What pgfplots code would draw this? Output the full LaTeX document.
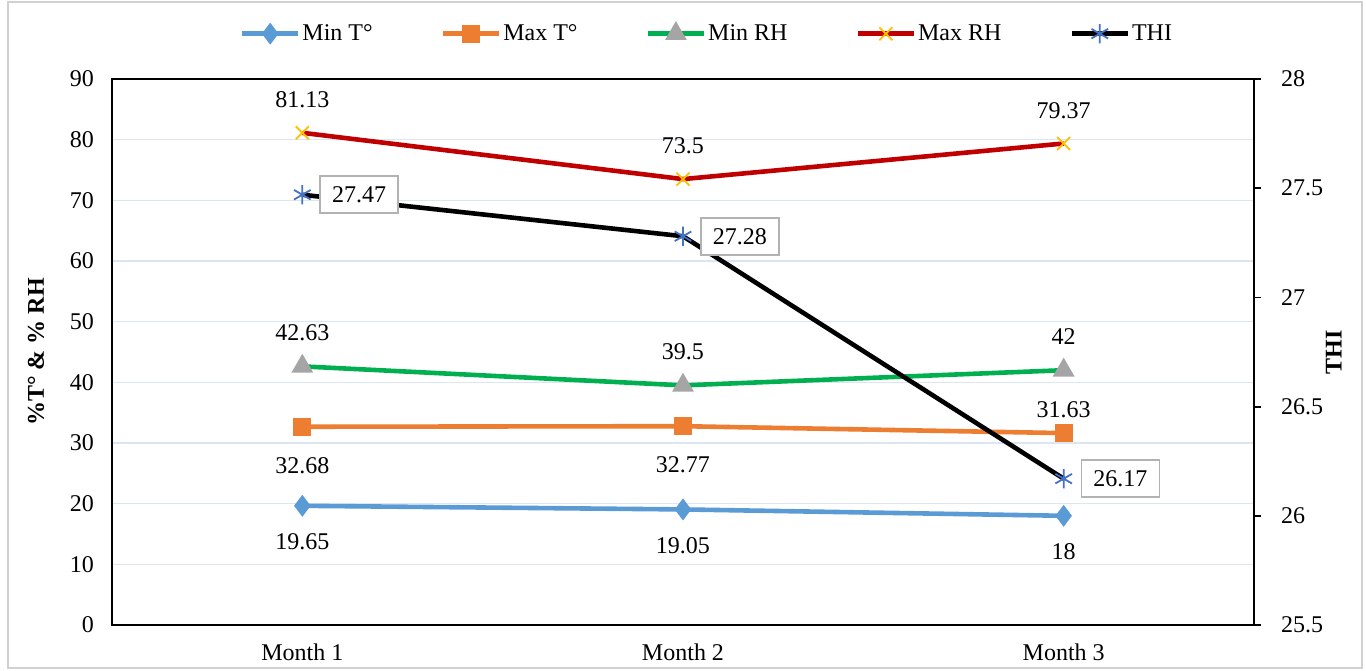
\documentclass[border=0pt]{standalone}
\usepackage{fontspec}
\setmainfont{Liberation Serif}
\usepackage{pgfplots}
\usepackage{pgfplotstable}
\pgfplotsset{compat=1.18}

\definecolor{cMinT}{HTML}{5B9BD5}
\definecolor{cMaxT}{HTML}{ED7D31}
\definecolor{cMinRH}{HTML}{00B050}
\definecolor{cMinRHm}{HTML}{A5A5A5}
\definecolor{cMaxRH}{HTML}{C00000}
\definecolor{cMaxRHm}{HTML}{FFC000}
\definecolor{cTHIm}{HTML}{4472C4}
\definecolor{cGrid}{HTML}{DCE6F2}

% dyT = vertical shift of the Max T label (pt)
\pgfplotstableread{
x minT maxT dyT minRH maxRH thi
0 19.65 32.68 -19.5 42.63 81.13 27.47
1 19.05 32.77 -19.5 39.5 73.5 27.28
2 18 31.63 11.5 42 79.37 26.17
}\datatable

\pgfplotsset{
  common/.style={
    scale only axis, width=571pt, height=273pt,
    xmin=-0.5, xmax=2.5,
    /pgf/number format/assume math mode=true,
  },
  ser/.style={line width=2.3pt, mark size=3.6pt, mark options={solid}},
  legend image code/.code={
    \draw[mark repeat=2,mark phase=2] plot coordinates {(0pt,0pt) (14pt,0pt) (28pt,0pt)};
  },
}

\begin{document}
\begin{tikzpicture}[font=\fontsize{12}{14}\selectfont]
\begin{axis}[common, name=ax,
    ymin=0, ymax=90, ytick distance=10,
    xtick={0,1,2}, xticklabels={Month 1,Month 2,Month 3},
    major tick length=0pt,
    xtick pos=bottom, ytick pos=left,
    ymajorgrids, grid style={cGrid, line width=0.6pt},
    axis line style={line width=0.9pt},
    yticklabel style={xshift=-5.5pt},
    xticklabel style={yshift=-6pt},
    ylabel={\textbf{\%T° \& \% RH}},
    ylabel style={yshift=6pt},
    nodes near coords,
    nodes near coords style={anchor=center, text=black},
    legend columns=5,
    legend style={draw=none, fill=none, at={(0.521,1.083)}, anchor=center,
      /tikz/every even column/.append style={column sep=33pt},
      nodes={inner xsep=1pt}},
  ]
  \addplot[ser, color=cMinT, mark=diamond*, mark size=3.6pt,
    nodes near coords style={yshift=-18pt}]
    table[x=x, y=minT] {\datatable};
  \addlegendentry{Min T°}
  \addplot[ser, color=cMaxT, mark=square*, mark size=3.4pt,
    visualization depends on={\thisrow{dyT}\as\dyT},
    nodes near coords style={yshift=\dyT pt}]
    table[x=x, y=maxT] {\datatable};
  \addlegendentry{Max T°}
  \addplot[ser, color=cMinRH, mark=triangle*, mark size=4pt,
    mark options={fill=cMinRHm, draw=cMinRHm},
    nodes near coords style={yshift=17pt}]
    table[x=x, y=minRH] {\datatable};
  \addlegendentry{Min RH}
  \addplot[ser, color=cMaxRH, mark=x, mark size=4.6pt,
    mark options={draw=cMaxRHm, line width=0.9pt},
    nodes near coords style={yshift=16.5pt}]
    table[x=x, y=maxRH] {\datatable};
  \addlegendentry{Max RH}
  \addlegendimage{ser, color=black, mark=asterisk, mark size=4.8pt,
    mark options={draw=cTHIm, line width=0.9pt}}
  \addlegendentry{THI}
\end{axis}
\begin{axis}[common,
    axis x line=none, axis y line*=right,
    ymin=25.5, ymax=28, ytick={25.5,26,...,28},
    tick align=outside, major tick length=3.5pt,
    axis line style={line width=0.9pt}, tick style={line width=0.9pt, black},
    yticklabel style={xshift=6.5pt},
    ylabel={\textbf{THI}},
    ylabel style={yshift=5.5pt},
    nodes near coords,
    nodes near coords style={anchor=west, xshift=8.5pt, text=black,
      draw=black!30, fill=white, line width=0.8pt,
      inner xsep=6pt, inner ysep=4pt, minimum height=18.5pt},
  ]
  \addplot[ser, color=black, mark=asterisk, mark size=4.8pt,
    mark options={draw=cTHIm, line width=0.9pt}]
    table[x=x, y=thi] {\datatable};
\end{axis}
\draw[black!18, line width=0.8pt]
  ([shift={(-52pt,-21.5pt)}]ax.south west) rectangle ([shift={(625pt,311.5pt)}]ax.south west);
\path ([shift={(-56pt,-22.5pt)}]ax.south west) rectangle ([shift={(627pt,312.5pt)}]ax.south west);
\end{tikzpicture}
\end{document}
